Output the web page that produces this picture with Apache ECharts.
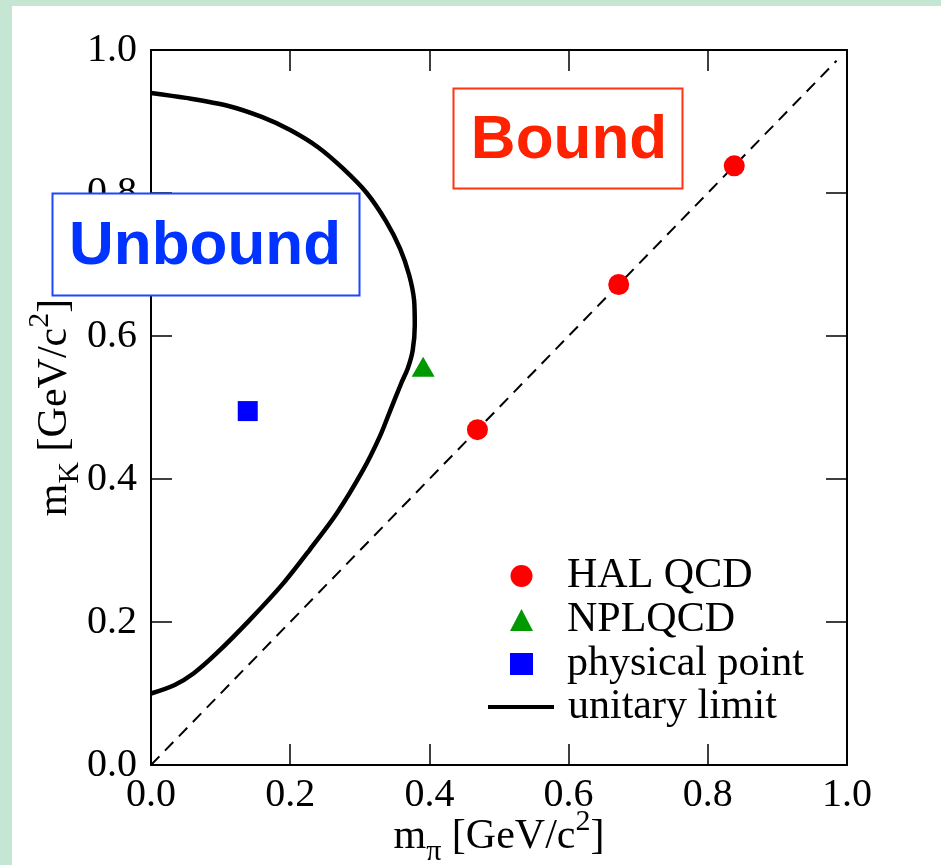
<!DOCTYPE html>
<html>
<head>
<meta charset="utf-8">
<script src="https://cdn.jsdelivr.net/npm/echarts@6/dist/echarts.min.js"></script>
<style>
html,body{margin:0;padding:0;background:#c4e6d3;}
#chart{position:absolute;left:0;top:0;width:941px;height:865px;}
</style>
</head>
<body>
<div id="chart"></div>
<script>
// ---- data ----
const tickLabels = ['0.0', '0.2', '0.4', '0.6', '0.8', '1.0'];
const halQcd = [[0.469, 0.469], [0.672, 0.672], [0.838, 0.838]];
const nplqcd = [[0.391, 0.557]];
const physicalPoint = [[0.139, 0.495]];
const unitaryLimit = [
  [0.000, 0.940], [0.050, 0.933], [0.110, 0.922], [0.160, 0.906],
  [0.200, 0.888], [0.240, 0.864], [0.275, 0.835], [0.310, 0.800],
  [0.338, 0.760], [0.358, 0.722], [0.371, 0.685], [0.378, 0.650],
  [0.379, 0.615], [0.376, 0.580], [0.369, 0.555], [0.360, 0.535],
  [0.343, 0.494], [0.329, 0.460], [0.305, 0.413], [0.267, 0.352],
  [0.228, 0.301], [0.190, 0.254], [0.142, 0.203], [0.094, 0.156],
  [0.061, 0.128], [0.034, 0.112], [0.000, 0.100]
];
const diagonal = [[0, 0], [0.985, 0.985]];

const serif = 'Liberation Serif';

const tickFmt = v => tickLabels[Math.round(v / 0.2)];

function axisBase(pos, showLabel) {
  return {
    type: 'value', min: 0, max: 1, interval: 0.2, position: pos,
    axisLine: { show: true, onZero: false, lineStyle: { color: '#000', width: 2 } },
    axisTick: { show: true, inside: true, length: 21, lineStyle: { color: '#000', width: 1.5 } },
    splitLine: { show: false },
    axisLabel: {
      show: showLabel, formatter: tickFmt, showMinLabel: true, showMaxLabel: true,
      fontFamily: serif, fontSize: 40, color: '#000'
    }
  };
}

const richTitle = {
  m: { fontFamily: serif, fontSize: 42, lineHeight: 60, color: '#000' },
  sub: { fontFamily: serif, fontSize: 30, lineHeight: 40, verticalAlign: 'bottom', color: '#000' },
  sup: { fontFamily: serif, fontSize: 30, lineHeight: 30, verticalAlign: 'top', color: '#000' }
};

const xBottom = Object.assign(axisBase('bottom', true), {
  name: '{m|m}{sub|π}{m| [GeV/c}{sup|2}{m|]}',
  nameLocation: 'middle', nameGap: 42, nameMoveOverlap: false,
  nameTextStyle: { rich: richTitle }
});
xBottom.axisLabel.margin = 10;
const xTop = axisBase('top', false);

const yLeft = Object.assign(axisBase('left', true), {
  name: '{m|m}{sub|K}{m| [GeV/c}{sup|2}{m|]}',
  nameLocation: 'middle', nameGap: 66, nameRotate: 90, nameMoveOverlap: false,
  nameTextStyle: { rich: richTitle }
});
yLeft.axisLabel.margin = 14;
const yRight = axisBase('right', false);

const chart = echarts.init(document.getElementById('chart'), null, { renderer: 'canvas' });
chart.setOption({
  animation: false,
  backgroundColor: 'transparent',
  grid: { left: 151, top: 50, width: 696, height: 715, containLabel: false, outerBoundsMode: 'none' },
  xAxis: [xBottom, xTop],
  yAxis: [yLeft, yRight],
  legend: [
    {
      orient: 'vertical', left: 505, top: 549, itemWidth: 23, itemHeight: 22, itemGap: 0,
      selectedMode: false,
      data: [
        { name: 'HAL QCD', icon: 'circle' },
        { name: 'NPLQCD', icon: 'triangle' },
        { name: 'physical point', icon: 'rect' }
      ],
      textStyle: { fontFamily: serif, fontSize: 42, lineHeight: 44, color: '#000', padding: [0, 0, 0, 29] }
    },
    {
      orient: 'vertical', left: 483, top: 680, itemWidth: 66, itemHeight: 4, itemGap: 0,
      selectedMode: false,
      data: [{ name: 'unitary limit', icon: 'rect' }],
      textStyle: { fontFamily: serif, fontSize: 42, lineHeight: 44, color: '#000', padding: [0, 0, 0, 9] }
    }
  ],
  series: [
    {
      name: 'diagonal', type: 'line', data: diagonal, symbol: 'none', silent: true,
      lineStyle: { color: '#000', width: 2, type: [12, 8] }, z: 1
    },
    {
      name: 'unitary limit', type: 'line', data: unitaryLimit, symbol: 'none', smooth: 0.3,
      lineStyle: { color: '#000', width: 4.5 }, itemStyle: { color: '#000' }, z: 2
    },
    {
      name: 'HAL QCD', type: 'scatter', data: halQcd, symbol: 'circle', symbolSize: 21,
      itemStyle: { color: '#ff0000', opacity: 1 }, z: 3
    },
    {
      name: 'NPLQCD', type: 'scatter', data: nplqcd, symbol: 'triangle', symbolSize: [23, 20],
      itemStyle: { color: '#009900', opacity: 1 }, z: 3
    },
    {
      name: 'physical point', type: 'scatter', data: physicalPoint, symbol: 'rect', symbolSize: 20,
      itemStyle: { color: '#0000ff', opacity: 1 }, z: 3
    }
  ],
  graphic: [
    {
      type: 'rect', z: -100, silent: true,
      shape: { x: 12, y: 6, width: 929, height: 859 },
      style: { fill: '#ffffff' }
    },
    {
      type: 'rect', z: 100, silent: true,
      shape: { x: 52.5, y: 193.5, width: 307, height: 102 },
      style: { fill: '#ffffff', stroke: '#1a47ff', lineWidth: 2 }
    },
    {
      type: 'text', z: 101, silent: true, x: 205, y: 247,
      style: {
        text: 'Unbound', fill: '#0033ff', font: 'bold 62px "Liberation Sans"',
        textAlign: 'center', textVerticalAlign: 'middle'
      }
    },
    {
      type: 'rect', z: 100, silent: true,
      shape: { x: 453.5, y: 88.5, width: 229, height: 100 },
      style: { fill: '#ffffff', stroke: '#ff3311', lineWidth: 2 }
    },
    {
      type: 'text', z: 101, silent: true, x: 569, y: 141,
      style: {
        text: 'Bound', fill: '#ff2200', font: 'bold 62px "Liberation Sans"',
        textAlign: 'center', textVerticalAlign: 'middle'
      }
    }
  ]
});
</script>
</body>
</html>
